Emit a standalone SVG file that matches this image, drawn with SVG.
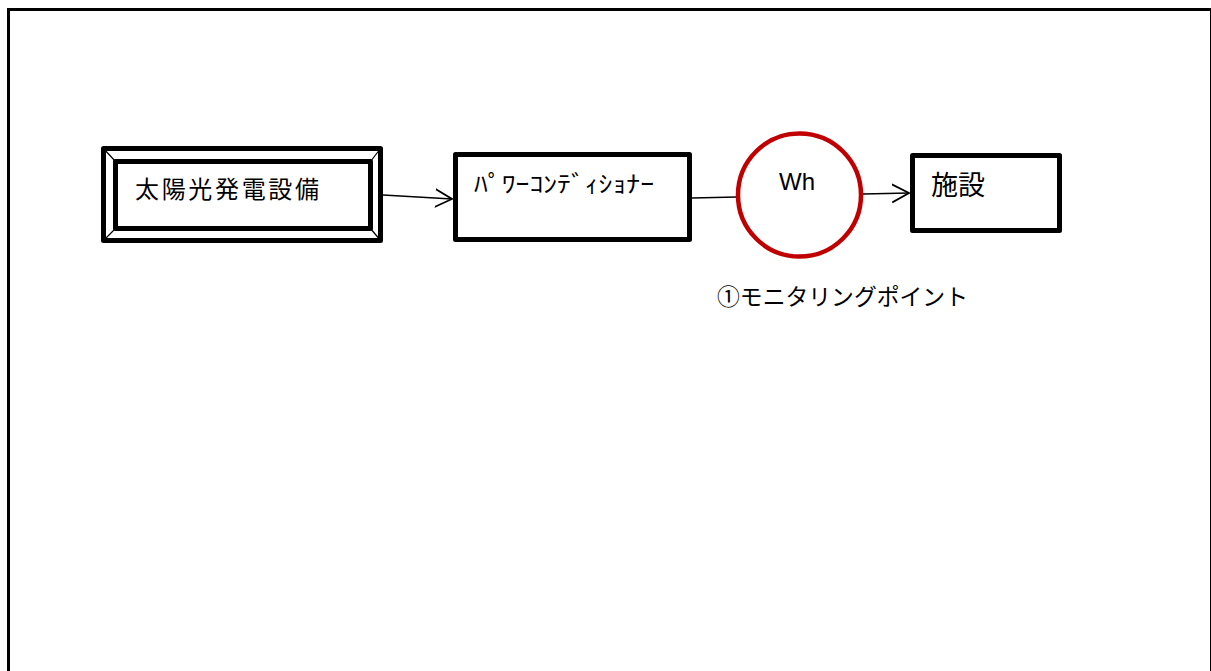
<svg xmlns="http://www.w3.org/2000/svg" width="1211" height="671" viewBox="0 0 1211 671">
<defs>
<style>
.box{fill:#fff;stroke:#000;stroke-width:5;stroke-linejoin:round}
.thin{fill:none;stroke:#000;stroke-width:1.2}
.conn{fill:none;stroke:#000;stroke-width:1.6}
.jp{font-family:"Noto Sans CJK JP","Noto Sans CJK SC",sans-serif;fill:#000}
.lat{font-family:"Liberation Sans",Arial,sans-serif;fill:#000}
</style>
<marker id="arr" markerUnits="userSpaceOnUse" markerWidth="20" markerHeight="22" refX="17" refY="10" orient="auto" viewBox="0 0 20 22">
<path d="M0,1 L17,10 L0,19" fill="none" stroke="#000" stroke-width="1.8"/>
</marker>
</defs>
<rect x="0" y="0" width="1211" height="671" fill="#fff"/>
<rect x="8.5" y="9.5" width="1203" height="700" fill="none" stroke="#000" stroke-width="3"/>
<g id="connectors">
<path class="conn" d="M383,195 L452,199" marker-end="url(#arr)"/>
<path class="conn" d="M692,198 L737,197"/>
<path class="conn" d="M863,194 L909,193" marker-end="url(#arr)"/>
</g>
<g id="solar">
<rect class="box" x="103.5" y="148.5" width="277" height="92"/>
<rect class="box" x="115.5" y="161.5" width="255" height="67"/>
<path class="thin" d="M103.5,148.5 L115.5,161.5 M380.5,148.5 L370.5,161.5 M103.5,240.5 L115.5,228.5 M380.5,240.5 L370.5,228.5"/>
<text class="jp" x="135" y="198" font-size="24" textLength="184" lengthAdjust="spacing">太陽光発電設備</text>
</g>
<g id="pcs">
<rect class="box" x="455.5" y="154.5" width="234" height="85"/>
<text class="jp" x="474" y="192" font-size="23" textLength="180" lengthAdjust="spacingAndGlyphs">ﾊﾟﾜｰｺﾝﾃﾞｨｼｮﾅｰ</text>
</g>
<g id="meter">
<circle cx="799.5" cy="195" r="61.5" fill="#fff" stroke="#C00000" stroke-width="4.5"/>
<text class="lat" x="797" y="190" font-size="24" text-anchor="middle">Wh</text>
</g>
<g id="facility">
<rect class="box" x="912.5" y="155.5" width="147" height="75"/>
<text class="jp" x="931" y="195" font-size="27">施設</text>
</g>
<g id="label">
<text class="jp" x="717" y="305" font-size="23" textLength="251" lengthAdjust="spacingAndGlyphs">①モニタリングポイント</text>
</g>
</svg>
